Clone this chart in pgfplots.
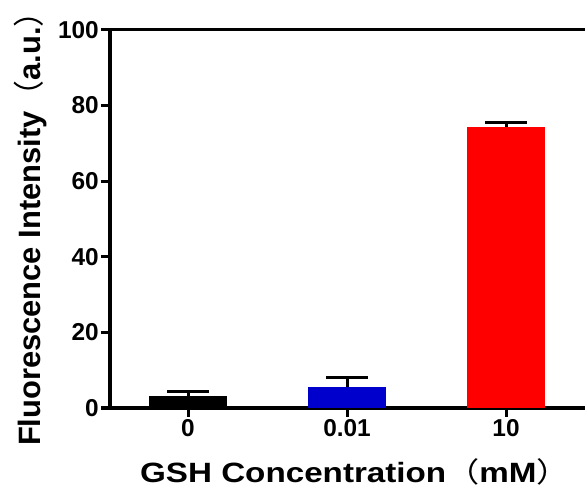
\documentclass[border=0pt]{standalone}
\usepackage{pgfplots}
\pgfplotsset{compat=1.18}
\usepackage{fontspec}
\setmainfont{Liberation Sans}
\newfontfamily\cjk{Noto Sans CJK SC}
\newfontfamily\xlabfont{Liberation Sans}[FakeStretch=1.19]
\newfontfamily\xcjk{Noto Sans CJK SC}[FakeStretch=1.19]
\newfontfamily\ylabfont{Liberation Sans}
\newfontfamily\ycjk{Noto Sans CJK SC}
\begin{document}
\begin{tikzpicture}
\useasboundingbox (0,0) rectangle (585bp,489bp);
\begin{axis}[
  at={(110bp,81bp)}, anchor=south west,
  scale only axis,
  width=490bp, height=378bp,
  xmin=-0.4906, xmax=2.591,
  ymin=0, ymax=100,
  xtick={0,1,2}, xticklabels={0,0.01,10},
  ytick={0,20,40,60,80,100},
  xtick pos=bottom, ytick pos=left,
  tick align=outside,
  major tick length=9bp,
  axis line style={line width=3bp},
  every tick/.style={line width=3bp, black},
  /pgf/number format/assume math mode=true,
  tick label style={font=\fontsize{24.5}{24}\selectfont\bfseries, inner sep=2bp},
  xlabel={{\xlabfont\bfseries GSH Concentration}{\xcjk （}{\xlabfont\bfseries mM}{\xcjk ）}},
  ylabel={{\ylabfont\bfseries Fluorescence Intensity}{\ycjk （}{\ylabfont\bfseries a.u.}\makebox[0.55em][l]{\ycjk ）}},
  xlabel style={font=\fontsize{28}{28}\selectfont, at={(axis description cs:0.50,-0.1976)}, anchor=base},
  ylabel style={font=\fontsize{31}{31}\selectfont, at={(axis description cs:-0.163,0.476)}, anchor=center, inner sep=0pt},
  ybar, bar width=78bp,
  clip=false,
]
\addplot[bar shift=0pt, fill=black, draw=none,
  error bars/.cd, y dir=plus, y explicit,
  error bar style={line width=3bp, black},
  error mark options={rotate=90, line width=3bp, mark size=21bp, black}]
  coordinates {(0,3.2) +- (0,1.1)};
\addplot[bar shift=0pt, fill={rgb,255:red,0;green,0;blue,204}, draw=none,
  error bars/.cd, y dir=plus, y explicit,
  error bar style={line width=3bp, black},
  error mark options={rotate=90, line width=3bp, mark size=21bp, black}]
  coordinates {(1,5.6) +- (0,2.6)};
\addplot[bar shift=0pt, fill={rgb,255:red,255;green,0;blue,0}, draw=none,
  error bars/.cd, y dir=plus, y explicit,
  error bar style={line width=3bp, black},
  error mark options={rotate=90, line width=3bp, mark size=21bp, black}]
  coordinates {(2,74.4) +- (0,1.2)};
\end{axis}
\end{tikzpicture}
\end{document}
